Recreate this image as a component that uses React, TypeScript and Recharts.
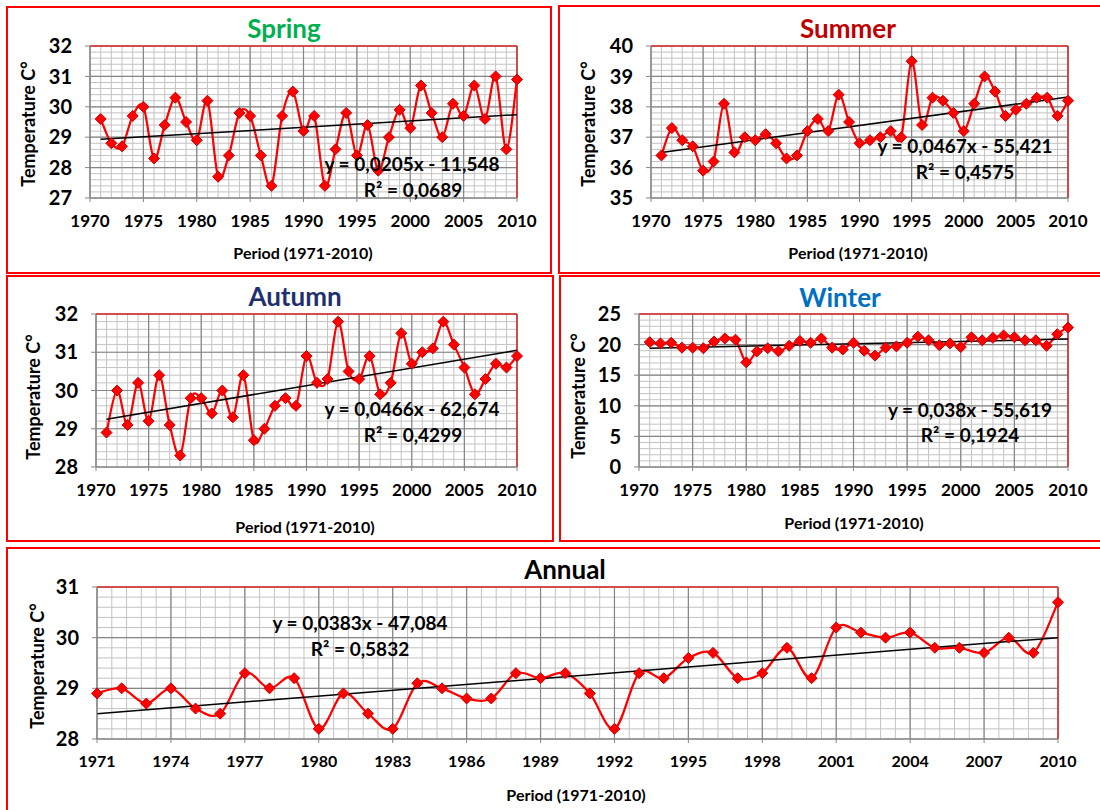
import React from "react";
import { LineChart, Line, XAxis, YAxis, CartesianGrid, ReferenceLine } from "recharts";

const years = [
  1971, 1972, 1973, 1974, 1975, 1976, 1977, 1978, 1979, 1980,
  1981, 1982, 1983, 1984, 1985, 1986, 1987, 1988, 1989, 1990,
  1991, 1992, 1993, 1994, 1995, 1996, 1997, 1998, 1999, 2000,
  2001, 2002, 2003, 2004, 2005, 2006, 2007, 2008, 2009, 2010,
];

const spring = [
  29.6, 28.8, 28.7, 29.7, 30.0, 28.3, 29.4, 30.3, 29.5, 28.9,
  30.2, 27.7, 28.4, 29.8, 29.7, 28.4, 27.4, 29.7, 30.5, 29.2,
  29.7, 27.4, 28.6, 29.8, 28.4, 29.4, 27.9, 29.0, 29.9, 29.3,
  30.7, 29.8, 29.0, 30.1, 29.7, 30.7, 29.6, 31.0, 28.6, 30.9,
];
const summer = [
  36.4, 37.3, 36.9, 36.7, 35.9, 36.2, 38.1, 36.5, 37.0, 36.9,
  37.1, 36.8, 36.3, 36.4, 37.2, 37.6, 37.2, 38.4, 37.5, 36.8,
  36.9, 37.0, 37.2, 37.0, 39.5, 37.4, 38.3, 38.2, 37.8, 37.2,
  38.1, 39.0, 38.5, 37.7, 37.9, 38.1, 38.3, 38.3, 37.7, 38.2,
];
const autumn = [
  28.9, 30.0, 29.1, 30.2, 29.2, 30.4, 29.1, 28.3, 29.8, 29.8,
  29.4, 30.0, 29.3, 30.4, 28.7, 29.0, 29.6, 29.8, 29.6, 30.9,
  30.2, 30.3, 31.8, 30.5, 30.3, 30.9, 29.9, 30.2, 31.5, 30.7,
  31.0, 31.1, 31.8, 31.2, 30.6, 29.9, 30.3, 30.7, 30.6, 30.9,
];
const winter = [
  20.4, 20.2, 20.3, 19.5, 19.5, 19.4, 20.5, 21.0, 20.8, 17.1,
  18.9, 19.4, 18.9, 19.8, 20.6, 20.3, 21.0, 19.5, 19.2, 20.3,
  19.0, 18.2, 19.5, 19.7, 20.3, 21.3, 20.7, 19.9, 20.2, 19.6,
  21.2, 20.7, 21.1, 21.5, 21.2, 20.7, 20.7, 19.8, 21.7, 22.8,
];
const annual = [
  28.9, 29.0, 28.7, 29.0, 28.6, 28.5, 29.3, 29.0, 29.2, 28.2,
  28.9, 28.5, 28.2, 29.1, 29.0, 28.8, 28.8, 29.3, 29.2, 29.3,
  28.9, 28.2, 29.3, 29.2, 29.6, 29.7, 29.2, 29.3, 29.8, 29.2,
  30.2, 30.1, 30.0, 30.1, 29.8, 29.8, 29.7, 30.0, 29.7, 30.7,
];

// linear trendline ends (1971, 2010)
const springTrend = [28.93, 29.74];
const summerTrend = [36.5, 38.32];
const autumnTrend = [29.25, 31.05];
const winterTrend = [19.4, 20.9];
const annualTrend = [28.5, 30.0];

const seasonTicks = [1970, 1975, 1980, 1985, 1990, 1995, 2000, 2005, 2010];
const annualTicks = [1971, 1974, 1977, 1980, 1983, 1986, 1989, 1992, 1995, 1998, 2001, 2004, 2007, 2010];
const springY = [27, 28, 29, 30, 31, 32];
const summerY = [35, 36, 37, 38, 39, 40];
const autumnY = [28, 29, 30, 31, 32];
const winterY = [0, 5, 10, 15, 20, 25];
const annualY = [28, 29, 30, 31];

const FONT = "Lato, 'Open Sans', sans-serif";
const YAW = 60;
const MT = 16;
const MR = 34;
const XAH = 45;

const steps = (a: number, b: number, s: number) => {
  const out: number[] = [];
  for (let v = a; v <= b + 1e-9; v += s) out.push(Math.round(v * 1000) / 1000);
  return out;
};

// Excel-ish smoothed line (Catmull-Rom as cubic bezier)
const excelCurve = (ctx: any) => {
  let pts: number[][] = [];
  return {
    areaStart() {},
    areaEnd() {},
    lineStart() { pts = []; },
    point(x: number, y: number) { pts.push([+x, +y]); },
    lineEnd() {
      if (!pts.length) return;
      ctx.moveTo(pts[0][0], pts[0][1]);
      for (let i = 0; i < pts.length - 1; i++) {
        const p0 = pts[i - 1] || pts[i];
        const p1 = pts[i];
        const p2 = pts[i + 1];
        const p3 = pts[i + 2] || p2;
        ctx.bezierCurveTo(
          p1[0] + (p2[0] - p0[0]) / 6, p1[1] + (p2[1] - p0[1]) / 6,
          p2[0] - (p3[0] - p1[0]) / 6, p2[1] - (p3[1] - p1[1]) / 6,
          p2[0], p2[1]
        );
      }
    },
  };
};

const diamond = (p: any) => {
  const { cx, cy, index } = p;
  if (cx == null || cy == null) return <g key={index} />;
  const r = 5.5;
  return (
    <path
      key={index}
      d={`M${cx},${cy - r}L${cx + r},${cy}L${cx},${cy + r}L${cx - r},${cy}Z`}
      fill="#ff0000"
      stroke="#c80000"
      strokeWidth={1}
    />
  );
};

const makeRows = (vals: number[], trend: number[]) =>
  years.map((y, i) => ({
    year: y,
    value: vals[i],
    trend: i === 0 ? trend[0] : i === years.length - 1 ? trend[1] : null,
  }));

const Txt = ({ x, y, size, color = "#000", rotate = false, children }: any) => (
  <div
    style={{
      position: "absolute",
      left: x,
      top: y,
      transform: `translate(-50%, -50%)${rotate ? " rotate(-90deg)" : ""}`,
      whiteSpace: "nowrap",
      fontFamily: FONT,
      fontWeight: 700,
      fontSize: size,
      color,
      lineHeight: 1,
    }}
  >
    {children}
  </div>
);

const Box = ({ l, t, w, h }: any) => (
  <div style={{ position: "absolute", left: l, top: t, width: w, height: h, border: "2px solid #ff0000", boxSizing: "border-box" }} />
);

const Panel = ({ plot, rows, xDomain, xTicks, xMinor, yDomain, yTicks, yMinor, xFont }: any) => {
  const w = YAW + plot.r - plot.l + MR;
  const h = MT + plot.b - plot.t + XAH;
  return (
    <div style={{ position: "absolute", left: plot.l - YAW, top: plot.t - MT }}>
      <LineChart width={w} height={h} data={rows} margin={{ top: MT, right: MR, left: 0, bottom: 0 }}>
        <CartesianGrid stroke="#c3c3c3" strokeWidth={1} verticalValues={xMinor} horizontalValues={yMinor} />
        <CartesianGrid stroke="#868686" strokeWidth={1.2} verticalValues={xTicks} horizontalValues={yTicks} />
        <XAxis
          dataKey="year"
          type="number"
          domain={xDomain}
          ticks={xTicks}
          interval={0}
          height={XAH}
          tickSize={4}
          tickMargin={13}
          stroke="#868686"
          tick={{ fill: "#000", fontSize: xFont, fontWeight: 700, fontFamily: FONT }}
        />
        <YAxis
          type="number"
          domain={yDomain}
          ticks={yTicks}
          interval={0}
          width={YAW}
          tickSize={5}
          tickMargin={13}
          stroke="#868686"
          tick={{ fill: "#000", fontSize: 20, fontWeight: 700, fontFamily: FONT }}
        />
        <ReferenceLine y={yDomain[1]} stroke="#e02a2a" strokeWidth={1.5} />
        <ReferenceLine x={xDomain[1]} stroke="#e02a2a" strokeWidth={1.5} />
        <Line dataKey="value" type={excelCurve as any} stroke="#ff0000" strokeWidth={2.25} dot={diamond} activeDot={false} isAnimationActive={false} />
        <Line dataKey="trend" type="linear" connectNulls stroke="#000" strokeWidth={1.5} dot={false} activeDot={false} isAnimationActive={false} />
      </LineChart>
    </div>
  );
};

const App = () => {
  const yearMinor = steps(1970, 2010, 1);
  return (
    <div style={{ position: "absolute", left: 0, top: 0, width: 1100, height: 810, overflow: "hidden", background: "#fff" }}>
      <Box l={6} t={6} w={546} h={268} />
      <Box l={558} t={5} w={560} h={269} />
      <Box l={6} t={275} w={548} h={267} />
      <Box l={559} t={275} w={560} h={267} />
      <Box l={6} t={547} w={1110} h={290} />

      <Panel plot={{ l: 90, t: 46, r: 517, b: 198 }} rows={makeRows(spring, springTrend)} xDomain={[1970, 2010]} xTicks={seasonTicks} xMinor={yearMinor} yDomain={[27, 32]} yTicks={springY} yMinor={steps(27, 32, 0.2)} xFont={17} />
      <Panel plot={{ l: 651, t: 46, r: 1068, b: 198 }} rows={makeRows(summer, summerTrend)} xDomain={[1970, 2010]} xTicks={seasonTicks} xMinor={yearMinor} yDomain={[35, 40]} yTicks={summerY} yMinor={steps(35, 40, 0.2)} xFont={17} />
      <Panel plot={{ l: 96, t: 314, r: 517, b: 467 }} rows={makeRows(autumn, autumnTrend)} xDomain={[1970, 2010]} xTicks={seasonTicks} xMinor={yearMinor} yDomain={[28, 32]} yTicks={autumnY} yMinor={steps(28, 32, 0.2)} xFont={17} />
      <Panel plot={{ l: 639, t: 314, r: 1068, b: 467 }} rows={makeRows(winter, winterTrend)} xDomain={[1970, 2010]} xTicks={seasonTicks} xMinor={yearMinor} yDomain={[0, 25]} yTicks={winterY} yMinor={steps(0, 25, 1)} xFont={17} />
      <Panel plot={{ l: 97, t: 587, r: 1058, b: 739 }} rows={makeRows(annual, annualTrend)} xDomain={[1971, 2010]} xTicks={annualTicks} xMinor={steps(1971, 2010, 0.6)} yDomain={[28, 31]} yTicks={annualY} yMinor={steps(28, 31, 0.2)} xFont={16} />

      <Txt x={284} y={28} size={26} color="#00b050">Spring</Txt>
      <Txt x={848} y={28} size={26} color="#c00000">Summer</Txt>
      <Txt x={295} y={296} size={26} color="#1f3070">Autumn</Txt>
      <Txt x={840} y={297} size={26} color="#0070c0">Winter</Txt>
      <Txt x={565} y={569} size={26}>Annual</Txt>

      <Txt x={28} y={124} size={18} rotate>Temperature C°</Txt>
      <Txt x={588} y={124} size={18} rotate>Temperature C°</Txt>
      <Txt x={33} y={397} size={18} rotate>Temperature C°</Txt>
      <Txt x={578} y={396} size={18} rotate>Temperature C°</Txt>
      <Txt x={37} y={666} size={18} rotate>Temperature C°</Txt>

      <Txt x={303} y={253} size={16}>Period (1971-2010)</Txt>
      <Txt x={858} y={253} size={16}>Period (1971-2010)</Txt>
      <Txt x={305} y={527} size={16}>Period (1971-2010)</Txt>
      <Txt x={854} y={523} size={16}>Period (1971-2010)</Txt>
      <Txt x={576} y={795} size={16}>Period (1971-2010)</Txt>

      <Txt x={412} y={163} size={19}>y = 0,0205x - 11,548</Txt>
      <Txt x={413} y={189} size={19}>R² = 0,0689</Txt>
      <Txt x={965} y={145} size={19}>y = 0,0467x - 55,421</Txt>
      <Txt x={965} y={171} size={19}>R² = 0,4575</Txt>
      <Txt x={412} y={408} size={19}>y = 0,0466x - 62,674</Txt>
      <Txt x={413} y={434} size={19}>R² = 0,4299</Txt>
      <Txt x={970} y={409} size={19}>y = 0,038x - 55,619</Txt>
      <Txt x={970} y={434} size={19}>R² = 0,1924</Txt>
      <Txt x={360} y={622} size={19}>y = 0,0383x - 47,084</Txt>
      <Txt x={360} y={648} size={19}>R² = 0,5832</Txt>
    </div>
  );
};

export default App;
